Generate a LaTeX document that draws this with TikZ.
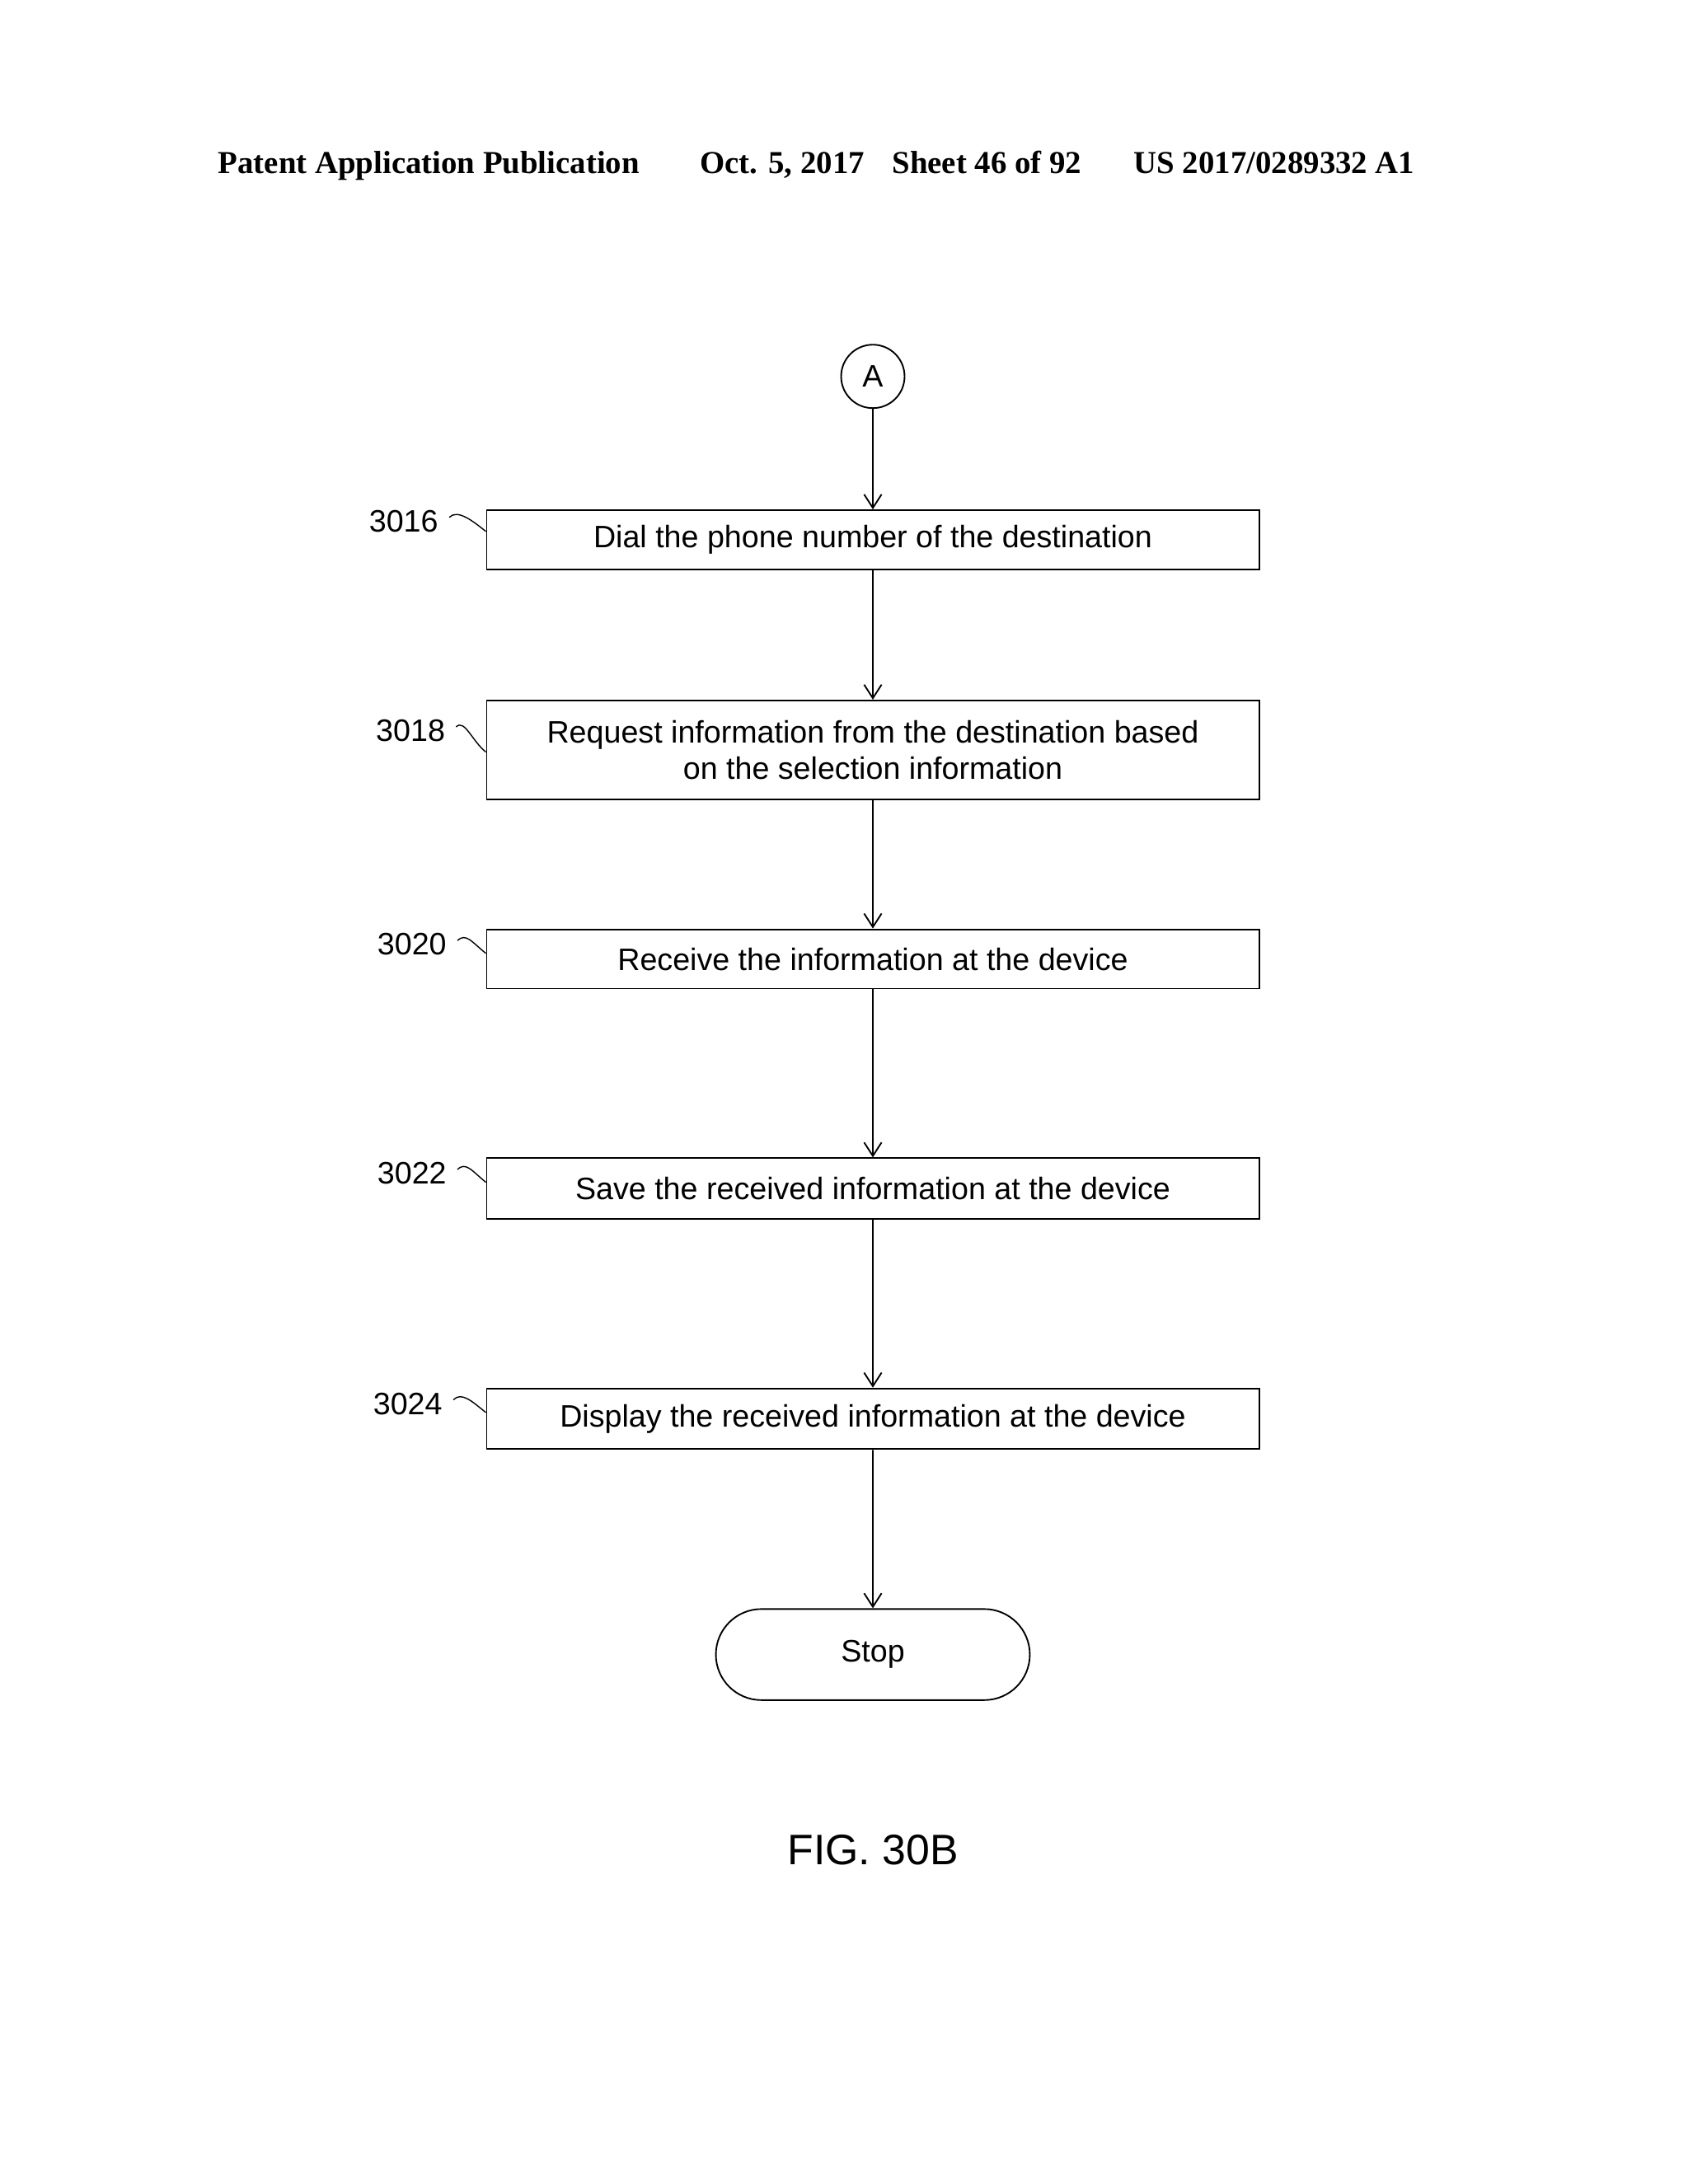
\documentclass[tikz,border=0pt]{standalone}
\usepackage{fontspec}
\setmainfont{Liberation Sans}
\newfontfamily\hdr{Liberation Serif}
\usetikzlibrary{shapes.misc,arrows.meta}
\begin{document}
\begin{tikzpicture}[x=0.025cm,y=-0.025cm,line width=0.8pt,
	stepbox/.style={draw, minimum width=14cm, align=center, font=\fontsize{16}{19}\selectfont},
	ref/.style={anchor=east, font=\fontsize{16}{19}\selectfont},
	flow/.style={-{Straight Barb[length=7pt,width=9pt]}}]
		\useasboundingbox (0,0) rectangle (1224,1584);

		\draw (153,120) node[anchor=west, font=\hdr\bfseries\fontsize{16.5}{19}\selectfont] (head) {Patent Application Publication\hspace{1.1cm}Oct. 5, 2017\hspace{0.5cm}Sheet 46 of 92\hspace{0.95cm}US 2017/0289332 A1};

		\draw (633,273) node[circle, draw, minimum size=1.15cm, inner sep=0pt, font=\fontsize{16}{19}\selectfont] (conA) {A};

		\draw (633,391.5) node[stepbox, minimum height=1.075cm] (b3016) {Dial the phone number of the destination};
		\draw (633,544) node[stepbox, minimum height=1.8cm] (b3018) {Request information from the destination based\\on the selection information};
		\draw (633,695.5) node[stepbox, minimum height=1.075cm] (b3020) {Receive the information at the device};
		\draw (633,862) node[stepbox, minimum height=1.1cm] (b3022) {Save the received information at the device};
		\draw (633,1029) node[stepbox, minimum height=1.1cm] (b3024) {Display the received information at the device};
		\draw (633,1200) node[rounded rectangle, draw, minimum width=5.925cm, minimum height=1.65cm, font=\fontsize{16}{19}\selectfont] (stop) {Stop};

		\draw (323,378) node[ref] (l3016) {3016};
		\draw (328,530) node[ref] (l3018) {3018};
		\draw (329,685) node[ref] (l3020) {3020};
		\draw (329,851) node[ref] (l3022) {3022};
		\draw (326,1018) node[ref] (l3024) {3024};

		\coordinate[yshift=-0.4cm] (t3016) at (b3016.north west);
		\coordinate[yshift=-0.95cm] (t3018) at (b3018.north west);
		\coordinate[yshift=-0.45cm] (t3020) at (b3020.north west);
		\coordinate[yshift=-0.45cm] (t3022) at (b3022.north west);
		\coordinate[yshift=-0.45cm] (t3024) at (b3024.north west);
		\foreach \n in {3016,3018,3020,3022,3024}
			\draw[line width=0.6pt] ([xshift=2pt,yshift=2pt]l\n.east) .. controls +(0.15cm,0.15cm) and +(-0.25cm,0.2cm) .. (t\n);

		\draw (633,1342) node[font=\fontsize{22}{26}\selectfont] (fig) {FIG. 30B};

		\draw [flow] (conA) -- (b3016);
		\draw [flow] (b3016) -- (b3018);
		\draw [flow] (b3018) -- (b3020);
		\draw [flow] (b3020) -- (b3022);
		\draw [flow] (b3022) -- (b3024);
		\draw [flow] (b3024) -- (stop);
	\end{tikzpicture}
\end{document}
